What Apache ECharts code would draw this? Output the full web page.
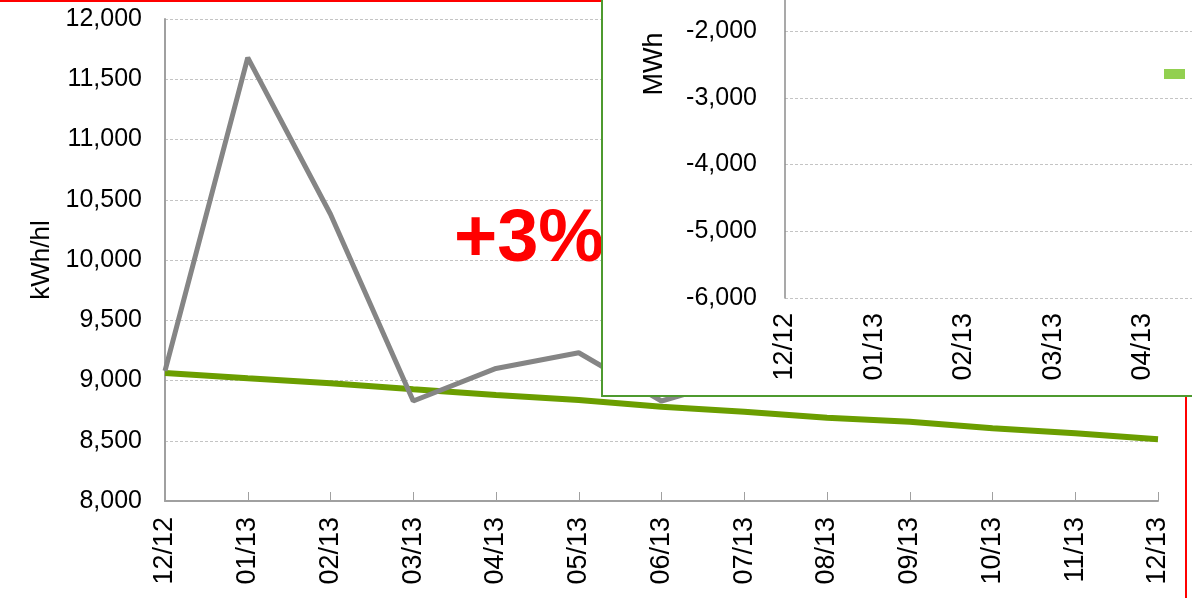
<!DOCTYPE html>
<html>
<head>
<meta charset="utf-8">
<script src="https://cdn.jsdelivr.net/npm/echarts@6/dist/echarts.min.js"></script>
<style>
  html, body { margin:0; padding:0; background:#fff; overflow:hidden; }
  #main { position:absolute; left:0; top:0; width:1192px; height:598px; }
  #inset { position:absolute; left:601px; top:-201px; width:1300px; height:594px;
           border:2px solid #4E9A2F; background:#fff; z-index:2; }
</style>
</head>
<body>
<div id="main"></div>
<div id="inset"></div>
<script>
// months shown on both category axes
var months = ['12/12','01/13','02/13','03/13','04/13','05/13','06/13','07/13','08/13','09/13','10/13','11/13','12/13'];
// kWh/hl actual (grey) - rest hidden behind the inset
var actualValues = [9080, 11680, 10380, 8830, 9100, 9230, 8830, 9030, null, null, null, null, null];
// kWh/hl target (green)
var targetValues = [9062, 9018, 8977, 8927, 8880, 8838, 8783, 8741, 8691, 8658, 8603, 8562, 8512];
// inset MWh series: nothing visible in this window
var insetValues = [null, null, null, null, null, null, null, null, null, null, null, null, null];
var mainTicks = { min: 8000, max: 12000, step: 500 };
var insetTicks = { min: -6000, max: 0, step: 1000 };

var FONT = "'Liberation Sans', Arial, sans-serif";
function fmt(v) { return Number(v).toLocaleString('en-US'); }

var mainChart = echarts.init(document.getElementById('main'), null, { renderer: 'canvas' });
mainChart.setOption({
  animation: false,
  grid: { left: 165, top: 19, width: 993, height: 482, containLabel: false },
  xAxis: {
    type: 'category',
    data: months,
    boundaryGap: false,
    axisLine: { lineStyle: { color: '#A0A0A0', width: 2 } },
    axisTick: { show: true, inside: true, length: 9, alignWithLabel: true, lineStyle: { color: '#A0A0A0', width: 1 } },
    axisLabel: { rotate: 90, margin: 16, fontSize: 27, color: '#000', fontFamily: FONT, interval: 0 },
    splitLine: { show: false }
  },
  yAxis: {
    type: 'value',
    min: mainTicks.min, max: mainTicks.max, interval: mainTicks.step,
    name: 'kWh/hl',
    nameLocation: 'middle',
    nameGap: 110,
    nameTextStyle: { fontSize: 26, color: '#000', fontFamily: FONT },
    axisLine: { show: true, lineStyle: { color: '#A0A0A0', width: 2 } },
    axisTick: { show: false },
    axisLabel: { margin: 23, fontSize: 25, color: '#000', fontFamily: FONT, formatter: fmt },
    splitLine: { lineStyle: { color: '#C4C4C4', width: 1, type: [3, 2] } }
  },
  series: [
    {
      name: 'Target',
      type: 'line',
      data: targetValues,
      symbol: 'none',
      lineStyle: { color: '#6B9E00', width: 6 },
      z: 3
    },
    {
      name: 'Actual',
      type: 'line',
      data: actualValues,
      symbol: 'none',
      connectNulls: false,
      lineStyle: { color: '#858585', width: 5 },
      z: 4
    }
  ],
  graphic: [
    { type: 'line', shape: { x1: 0, y1: 1, x2: 602, y2: 1 }, style: { stroke: '#FF0000', lineWidth: 2 }, z: 10 },
    { type: 'line', shape: { x1: 1186, y1: 0, x2: 1186, y2: 598 }, style: { stroke: '#FF0000', lineWidth: 2 }, z: 10 },
    { type: 'text', left: 454, top: 204,
      style: { text: '+3%', fill: '#FF0000', font: 'bold 74px ' + FONT }, z: 10 }
  ]
});

// inset chart (MWh), sits on top of the main one
var insetChart = echarts.init(document.getElementById('inset'), null, { renderer: 'canvas' });
insetChart.setOption({
  animation: false,
  grid: { left: 182, top: 96.5, width: 1074, height: 400.5, containLabel: false },
  legend: {
    left: 561, top: 268, padding: 0,
    icon: 'rect', itemWidth: 21, itemHeight: 10,
    data: ['MWh'],
    formatter: function () { return ''; },
    selectedMode: false
  },
  xAxis: {
    type: 'category',
    data: months,
    boundaryGap: false,
    axisLine: { show: false, onZero: false },
    axisTick: { show: false },
    axisLabel: { rotate: 90, margin: 15, fontSize: 27, color: '#000', fontFamily: FONT, interval: 0 },
    splitLine: { show: false }
  },
  yAxis: {
    type: 'value',
    min: insetTicks.min, max: insetTicks.max, interval: insetTicks.step,
    axisLine: { show: true, lineStyle: { color: '#8C8C8C', width: 1.5 } },
    axisTick: { show: false },
    axisLabel: { margin: 28, fontSize: 25, color: '#000', fontFamily: FONT, formatter: fmt },
    splitLine: { lineStyle: { color: '#C4C4C4', width: 1, type: [3, 2] } }
  },
  series: [
    {
      name: 'MWh',
      type: 'bar',
      data: insetValues,
      itemStyle: { color: '#92D050' }
    }
  ],
  graphic: [
    { type: 'text', x: 52, y: 263, rotation: Math.PI / 2,
      style: { text: 'MWh', fill: '#000', font: '27px ' + FONT, textAlign: 'center', textVerticalAlign: 'middle' } }
  ]
});
</script>
</body>
</html>
